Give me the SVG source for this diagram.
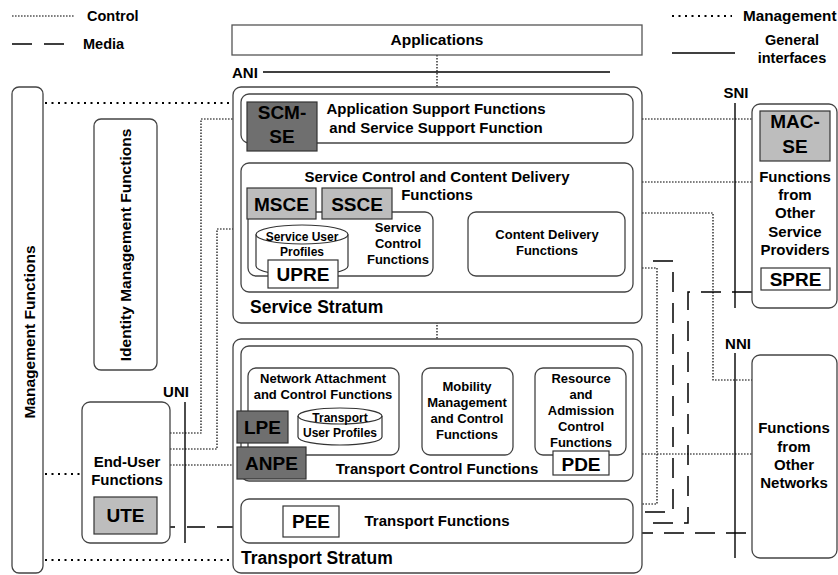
<svg xmlns="http://www.w3.org/2000/svg" width="838" height="575" viewBox="0 0 838 575">
<style>
text{font-family:"Liberation Sans",Arial,Helvetica,sans-serif;font-weight:bold;fill:#000}
.m{text-anchor:middle}
.box{fill:#fff;stroke:#444;stroke-width:1.3}
.dk{fill:#6f6f6f;stroke:#333;stroke-width:1.2}
.lt{fill:#bdbdbd;stroke:#333;stroke-width:1.2}
.wb{fill:#fff;stroke:#333;stroke-width:1.2}
.ctl{fill:none;stroke:#000;stroke-width:1.2;stroke-dasharray:1.6 1.4}
.mgt{fill:none;stroke:#000;stroke-width:2;stroke-dasharray:2 4.5}
.med{fill:none;stroke:#000;stroke-width:1.5;stroke-dasharray:20 11}
.gen{fill:none;stroke:#000;stroke-width:1.4}
.f19{font-size:19px}.f15{font-size:15px}.f13{font-size:13px}.f12{font-size:12px}.f17{font-size:17.5px}
</style>

<g id="legend">
<line class="ctl" x1="12" y1="16" x2="74" y2="16"/>
<text x="87" y="21" style="font-size:14.5px">Control</text>
<line class="med" x1="12" y1="44" x2="64" y2="44" style="stroke-dasharray:20 12"/>
<text x="83" y="49" style="font-size:14.5px">Media</text>
<line class="mgt" x1="672" y1="16" x2="732" y2="16"/>
<text x="743" y="21" style="font-size:15.3px">Management</text>
<line class="gen" x1="672" y1="53" x2="735" y2="53"/>
<text x="792" y="45" class="m" style="font-size:14.5px">General</text>
<text x="792" y="63" class="m" style="font-size:14.5px">interfaces</text>
</g>

<g id="connectors">
<line class="gen" x1="263" y1="72" x2="610" y2="72"/>
<line class="gen" x1="185" y1="402" x2="185" y2="543"/>
<line class="gen" x1="735" y1="103" x2="735" y2="308"/>
<line class="gen" x1="735" y1="353" x2="735" y2="558"/>
<line class="ctl" x1="437" y1="55" x2="437" y2="94"/>
<line class="ctl" x1="437" y1="143" x2="437" y2="163"/>
<line class="ctl" x1="437" y1="292" x2="437" y2="346"/>
<line class="ctl" x1="437" y1="481" x2="437" y2="499"/>
<line class="mgt" x1="45" y1="103" x2="232" y2="103"/>
<line class="mgt" x1="45" y1="474" x2="82" y2="474"/>
<line class="mgt" x1="45" y1="560" x2="232" y2="560"/>
<polyline class="ctl" points="170,433 201,433 201,119 247,119"/>
<polyline class="ctl" points="170,449 217,449 217,229 248,229"/>
<line class="ctl" x1="170" y1="465" x2="237" y2="465"/>
<line class="med" x1="170" y1="527" x2="233" y2="527" style="stroke-dasharray:18 12;stroke-dashoffset:13"/>
<line class="ctl" x1="633" y1="119" x2="752" y2="119"/>
<line class="ctl" x1="633" y1="182" x2="752" y2="182"/>
<polyline class="ctl" points="633,213 713,213 713,380 752,380"/>
<polyline class="ctl" points="633,268 657,268 657,504 633,504"/>
<line class="ctl" x1="633" y1="454" x2="752" y2="454"/>
<polyline class="med" points="633,261 673,261 673,512 633,512" style="stroke-dashoffset:11"/>
<polyline class="med" points="752,292 688,292 688,523 633,523"/>
<line class="med" x1="633" y1="533" x2="752" y2="533"/>
<line class="ctl" x1="433" y1="244" x2="468" y2="244"/>
<polyline class="ctl" points="326,368 326,355 581,355 581,368"/>
<line class="ctl" x1="399" y1="411" x2="422" y2="411"/>
<line class="ctl" x1="513" y1="411" x2="535" y2="411"/>
</g>

<g id="labels-interfaces">
<text x="232" y="78" class="f15">ANI</text>
<text x="176" y="397" class="m f15">UNI</text>
<text x="736" y="98" class="m f15">SNI</text>
<text x="738" y="349" class="m f15">NNI</text>
</g>

<g id="applications">
<rect class="box" x="232" y="25" width="410" height="30" style="stroke:#555"/>
<text x="437" y="45" class="m" style="font-size:15.5px">Applications</text>
</g>

<g id="management-functions">
<rect class="box" x="12" y="87" width="31" height="486" rx="7"/>
<text transform="translate(35,332) rotate(-90)" class="m" style="font-size:15.5px">Management Functions</text>
</g>

<g id="identity-management">
<rect class="box" x="94" y="119" width="63" height="251" rx="7"/>
<text transform="translate(131,245) rotate(-90)" class="m" style="font-size:15.5px">Identity Management Functions</text>
</g>

<g id="end-user-functions">
<rect class="box" x="82" y="402" width="88" height="141" rx="8"/>
<text x="127" y="467" class="m f15">End-User</text>
<text x="127" y="485" class="m f15">Functions</text>
<rect class="lt" x="94" y="497" width="63" height="37"/>
<text x="125.5" y="522" class="m f19">UTE</text>
</g>

<g id="service-stratum">
<rect class="box" x="233" y="87" width="409" height="236" rx="8"/>
<text x="250" y="313" class="f17">Service Stratum</text>
</g>

<g id="application-support">
<rect class="box" x="241" y="94" width="392" height="49" rx="8"/>
<text x="436" y="114" class="m f15">Application Support Functions</text>
<text x="436" y="133" class="m f15">and Service Support Function</text>
</g>

<g id="scm-se">
<rect class="dk" x="247" y="102" width="70" height="49"/>
<text x="282" y="119" class="m f19">SCM-</text>
<text x="282" y="143" class="m f19">SE</text>
</g>

<g id="service-control-content-delivery">
<rect class="box" x="241" y="163" width="392" height="129" rx="8"/>
<text x="437" y="182" class="m f15">Service Control and Content Delivery</text>
<text x="437" y="200" class="m f15">Functions</text>
</g>

<g id="service-control-functions">
<rect class="box" x="248" y="212" width="185" height="64" rx="8"/>
<text x="398" y="232" class="m f13">Service</text>
<text x="398" y="248" class="m f13">Control</text>
<text x="398" y="264" class="m f13">Functions</text>
</g>

<g id="msce">
<rect class="lt" x="247" y="188" width="69" height="31"/>
<text x="281.5" y="211" class="m f19">MSCE</text>
</g>
<g id="ssce">
<rect class="lt" x="322" y="188" width="70" height="31"/>
<text x="357" y="211" class="m f19">SSCE</text>
</g>

<g id="service-user-profiles">
<path class="wb" d="M256,234.5 A46,9.5 0 0 1 348,234.5 L348,266 A46,9.5 0 0 1 256,266 Z"/>
<path class="gen" style="stroke:#333;stroke-width:1.2" d="M256,234.5 A46,9.5 0 0 0 348,234.5"/>
<text x="302" y="241" class="m f12">Service User</text>
<text x="302" y="256" class="m f12">Profiles</text>
</g>

<g id="upre">
<rect class="wb" x="268" y="260" width="70" height="28"/>
<text x="303" y="281" class="m f19">UPRE</text>
</g>

<g id="content-delivery">
<rect class="box" x="468" y="212" width="157" height="64" rx="8"/>
<text x="547" y="239" class="m f13">Content Delivery</text>
<text x="547" y="255" class="m f13">Functions</text>
</g>

<g id="transport-stratum">
<rect class="box" x="233" y="339" width="409" height="234" rx="8"/>
<text x="241" y="564" class="f17">Transport Stratum</text>
</g>

<g id="transport-control-functions">
<rect class="box" x="241" y="346" width="392" height="135" rx="8"/>
<text x="437" y="474" class="m f15">Transport Control Functions</text>
</g>

<g id="nacf">
<rect class="box" x="248" y="368" width="151" height="87" rx="8"/>
<text x="323" y="383" class="m f13">Network Attachment</text>
<text x="323" y="399" class="m f13">and Control Functions</text>
</g>

<g id="transport-user-profiles">
<path class="wb" d="M298,416 A42,8 0 0 1 382,416 L382,437 A42,8 0 0 1 298,437 Z"/>
<path class="gen" style="stroke:#333;stroke-width:1.2" d="M298,416 A42,8 0 0 0 382,416"/>
<text x="340" y="422" class="m f12">Transport</text>
<text x="340" y="437" class="m f12">User Profiles</text>
</g>

<g id="lpe">
<rect class="dk" x="237" y="411" width="51" height="32"/>
<text x="262.5" y="434" class="m f19">LPE</text>
</g>
<g id="anpe">
<rect class="dk" x="237" y="447" width="69" height="32"/>
<text x="271.5" y="470" class="m f19">ANPE</text>
</g>

<g id="mmcf">
<rect class="box" x="422" y="368" width="91" height="87" rx="8"/>
<text x="467" y="391" class="m f13">Mobility</text>
<text x="467" y="407" class="m f13">Management</text>
<text x="467" y="423" class="m f13">and Control</text>
<text x="467" y="439" class="m f13">Functions</text>
</g>

<g id="racf">
<rect class="box" x="535" y="368" width="91" height="87" rx="8"/>
<text x="581" y="383" class="m f13">Resource</text>
<text x="581" y="399" class="m f13">and</text>
<text x="581" y="415" class="m f13">Admission</text>
<text x="581" y="431" class="m f13">Control</text>
<text x="581" y="447" class="m f13">Functions</text>
</g>

<g id="pde">
<rect class="wb" x="553" y="451" width="56" height="24"/>
<text x="581" y="471" class="m f19">PDE</text>
</g>

<g id="transport-functions">
<rect class="box" x="241" y="499" width="392" height="44" rx="8"/>
<text x="437" y="526" class="m f15">Transport Functions</text>
</g>
<g id="pee">
<rect class="wb" x="283" y="506" width="56" height="31"/>
<text x="311" y="528" class="m f19">PEE</text>
</g>

<g id="other-service-providers">
<rect class="box" x="752" y="104" width="85" height="204" rx="8"/>
<rect class="lt" x="760" y="111" width="70" height="50"/>
<text x="795" y="128" class="m f19">MAC-</text>
<text x="795" y="153" class="m f19">SE</text>
<text x="795" y="182" class="m f15">Functions</text>
<text x="795" y="200" class="m f15">from</text>
<text x="795" y="218" class="m f15">Other</text>
<text x="795" y="237" class="m f15">Service</text>
<text x="795" y="255" class="m f15">Providers</text>
<rect class="wb" x="761" y="268" width="69" height="22"/>
<text x="795.5" y="286" class="m f19">SPRE</text>
</g>

<g id="other-networks">
<rect class="box" x="752" y="355" width="85" height="203" rx="8"/>
<text x="794" y="433" class="m f15">Functions</text>
<text x="794" y="452" class="m f15">from</text>
<text x="794" y="470" class="m f15">Other</text>
<text x="794" y="488" class="m f15">Networks</text>
</g>
</svg>
